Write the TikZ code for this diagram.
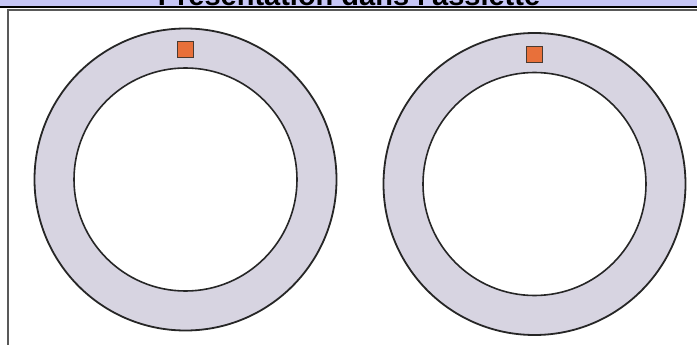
\documentclass[tikz,border=0pt]{standalone}
\usepackage{fontspec}
\usepackage{xcolor}
\usepackage{tikz}
\usetikzlibrary{positioning}
\newfontfamily\titlefont{Liberation Sans}
\definecolor{bandlav}{HTML}{C6C6F6}
\definecolor{platelav}{HTML}{D7D4E1}
\definecolor{tagorange}{HTML}{E8703A}
\definecolor{tagedge}{HTML}{4A3A30}

\begin{document}
\begin{tikzpicture}[
  x=1pt,y=-1pt,
  plate/.style={circle,draw=black!85,line width=1.8pt,fill=platelav,minimum size=302pt,inner sep=0pt},
  hole/.style={circle,draw=black!85,line width=1.6pt,fill=white,minimum size=223pt,inner sep=0pt},
  tag/.style={rectangle,draw=tagedge,line width=0.9pt,fill=tagorange,minimum size=16pt,inner sep=0pt},
  ttl/.style={font=\titlefont\bfseries\fontsize{29}{34}\selectfont,inner sep=0pt,anchor=base}
]
  \useasboundingbox (0,0) rectangle (697,345);
  \clip (0,0) rectangle (697,345);

  % title band, cut at the top
  \fill[bandlav] (0,0) rectangle (697,6);
  \node[ttl] (title) at (349,5.5) {Présentation dans l'assiette};
  \draw[black,line width=2pt] (0,7) -- (697,7);
  \draw[black!65,line width=1.3pt] (8,345) |- (697,10);

  % plates
  \node[plate] (left)  at (185.5,179.5) {};
  \node[hole]  (lin)   at (left.center) {};
  \node[tag]   (ltag)  at (185,49) {};

  \node[plate] (right) at (534.5,184) {};
  \node[hole]  (rin)   at (right.center) {};
  \node[tag]   (rtag)  at (534.5,54) {};
\end{tikzpicture}
\end{document}
